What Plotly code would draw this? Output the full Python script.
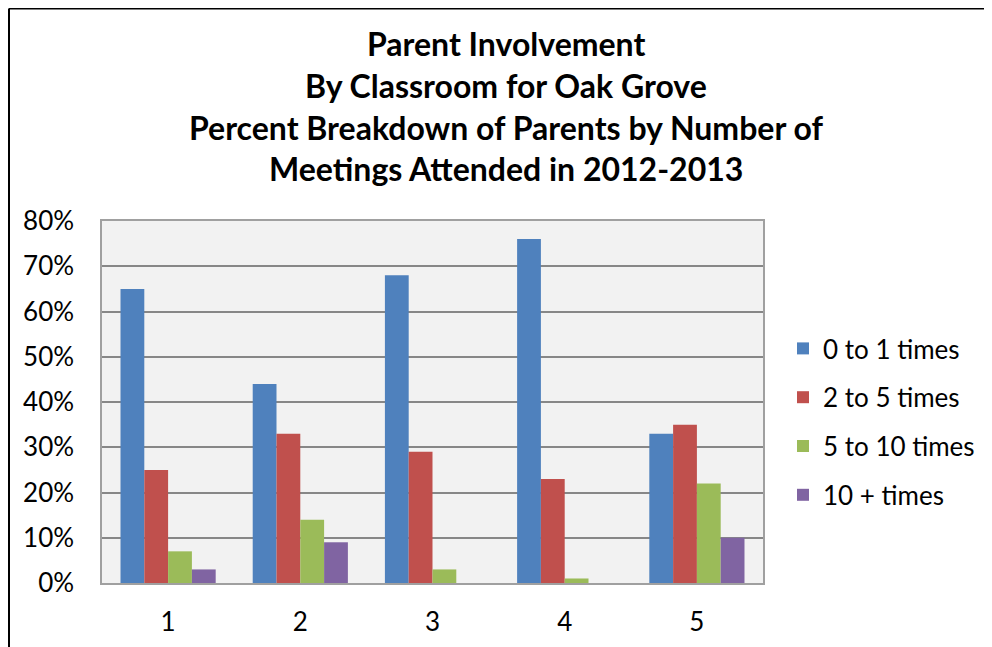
import plotly.graph_objects as go

# Data (percent of parents)
classrooms = ["1", "2", "3", "4", "5"]
series_names = ["0 to 1 times", "2 to 5 times", "5 to 10 times", "10 + times"]
zero_to_one = [65, 44, 68, 76, 33]
two_to_five = [25, 33, 29, 23, 35]
five_to_ten = [7, 14, 3, 1, 22]
ten_plus = [3, 9, 0, 0, 10]
colors = ["#4F81BD", "#C0504D", "#9BBB59", "#8064A2"]
title_lines = [
    "Parent Involvement",
    "By Classroom for Oak Grove",
    "Percent Breakdown of Parents by Number of",
    "Meetings Attended in 2012-2013",
]
y_ticks = [0, 10, 20, 30, 40, 50, 60, 70, 80]

FONT = "Lato"
OFF = 8  # page body margin
W, H = 992 - OFF, 647 - OFF
# plot area in page pixels: x 102..763, y 221..583
L, T = 102 - OFF, 221 - OFF
R, B = W - (763 - OFF), H - (583 - OFF)
pw, ph = W - L - R, H - T - B


def px_x(x):
    # page pixel -> paper coordinate
    return (x - OFF - L) / pw


def px_y(y):
    return (H - B - (y - OFF)) / ph


fig = go.Figure()
for i, (name, vals) in enumerate(zip(series_names, [zero_to_one, two_to_five, five_to_ten, ten_plus])):
    fig.add_trace(go.Bar(
        x=classrooms,
        y=vals,
        name=name,
        legendgroup=name,
        marker=dict(color=colors[i], line=dict(width=0)),
    ))

# title as separate lines for tighter control of spacing
annotations = []
for k, line in enumerate(title_lines):
    annotations.append(dict(
        text="<b>%s</b>" % line,
        xref="paper", yref="paper",
        x=px_x(506), y=px_y(43 + 42 * k),
        xanchor="center", yanchor="middle",
        showarrow=False,
        font=dict(family=FONT, size=32, color="#000000"),
    ))

# outer chart frame (left and top edges visible in the picture)
shapes = [
    dict(type="line", xref="paper", yref="paper",
         x0=px_x(9), x1=px_x(9), y0=px_y(8.5), y1=px_y(700),
         line=dict(color="#000000", width=2)),
    dict(type="line", xref="paper", yref="paper",
         x0=px_x(9), x1=px_x(1100), y0=px_y(8.6), y1=px_y(8.6),
         line=dict(color="#000000", width=2)),
]

fig.update_layout(
    width=W, height=H,
    margin=dict(l=L, r=R, t=T, b=B, autoexpand=False),
    paper_bgcolor="white",
    plot_bgcolor="#F2F2F2",
    bargap=0.28,
    bargroupgap=0,
    showlegend=True,
    legend=dict(
        x=px_x(783), y=px_y(325), xanchor="left", yanchor="top",
        font=dict(family=FONT, size=26, color="#000000"),
        tracegroupgap=12,
        bgcolor="rgba(0,0,0,0)",
    ),
    annotations=annotations,
    shapes=shapes,
    font=dict(family=FONT, color="#000000"),
)
fig.update_yaxes(
    range=[0, 80],
    tickvals=y_ticks,
    ticktext=["%d%%" % v for v in y_ticks],
    tickfont=dict(family=FONT, size=26, color="#000000"),
    showgrid=True, gridcolor="#878787", gridwidth=1.5,
    showline=True, linecolor="#A0A0A0", linewidth=1.5, mirror=True,
    zeroline=False,
    ticks="", ticklabelstandoff=21,
)
fig.update_xaxes(
    tickfont=dict(family=FONT, size=26, color="#000000"),
    showline=True, linecolor="#A0A0A0", linewidth=1.5, mirror=True,
    ticks="", ticklabelstandoff=15,
)

fig.write_html("out.html")
